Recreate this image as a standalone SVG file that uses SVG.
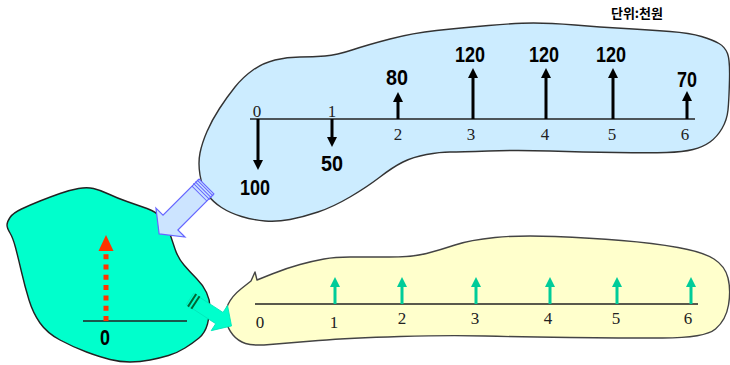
<svg xmlns="http://www.w3.org/2000/svg" width="730" height="365" viewBox="0 0 730 365">
<defs>
<style>
.blob{stroke-width:1.4;stroke-linejoin:round}
.axis{stroke:#222;stroke-width:1.5;fill:none}
.tick{font-family:"Liberation Serif","Times New Roman",serif;font-size:17px;fill:#222;text-anchor:middle}
.val{font-family:"Liberation Sans",Arial,sans-serif;font-size:22px;font-weight:bold;fill:#000;text-anchor:middle}
.blk{stroke:#000;stroke-width:3;fill:none}
.grn{stroke:#00CC99;stroke-width:3;fill:none}
</style>
<marker id="hb" viewBox="0 0 10 10" refX="2" refY="5" markerWidth="10" markerHeight="10" markerUnits="userSpaceOnUse" orient="auto"><path d="M0,0 L10,5 L0,10 Z" fill="#000"/></marker>
<marker id="hg" viewBox="0 0 10 10" refX="2" refY="5" markerWidth="10" markerHeight="10" markerUnits="userSpaceOnUse" orient="auto"><path d="M0,0 L10,5 L0,10 Z" fill="#00CC99"/></marker>
</defs>
<rect width="730" height="365" fill="#fff"/>

<g id="node-present">
<path class="blob" fill="#00FFCC" stroke="#222" d="M7,225 Q7,222 10,217.5 Q13,213 21.5,209 Q30,205 40,201 Q50,197 60,193.5 Q70,190 78.5,188.5 Q87,187 93.5,188.5 Q100,190 108.5,194 Q117,198 127,201.5 Q137,205 147,208.5 Q157,212 162,218.5 Q167,225 169.5,232.5 Q172,240 175,249 Q178,258 184,265 Q190,272 196.5,278.5 Q203,285 206.5,292.5 Q210,300 210,307.5 Q210,315 207.5,324 Q205,333 199,338 Q193,343 185,348 Q177,353 168.5,355.5 Q160,358 150,360 Q140,362 130,362 Q120,362 110,359.5 Q100,357 86.5,352 Q73,347 60,340 Q47,333 40,323 Q33,313 29,300 Q25,287 21.5,272 Q18,257 15.5,247.5 Q13,238 10,233 Q7,228 7,225 Z"/>
<line class="axis" x1="83" y1="321" x2="187" y2="321" stroke-width="1.3"/>
<path d="M106,321 V252" stroke="#FF3300" stroke-width="5" stroke-dasharray="5 5.3" fill="none"/>
<polygon points="106,235 98.5,251 113.5,251" fill="#FF3300"/>
<text class="val" x="105" y="345" font-size="18" textLength="10" lengthAdjust="spacingAndGlyphs">0</text>
</g>

<g id="node-annuity">
<path class="blob" fill="#FFFFCC" stroke="#444" d="M255,272 L257,280 L272,274 Q287,268 300,264.5 Q313,261 324,259 Q335,257 350,257 Q365,257 389,257 Q413,257 426.5,253.5 Q440,250 455,245 Q470,240 495,237.5 Q520,235 555,236.5 Q590,238 621.5,240.5 Q653,243 678,247.5 Q703,252 714,259 Q725,266 728,278 Q731,290 728.5,305 Q726,320 715.5,329 Q705,338 662.5,338 Q620,338 570,337.5 Q520,337 485,336 Q450,335 400,336.5 Q350,338 318.5,340.5 Q287,343 270,344.5 Q253,346 245.5,343.5 Q238,341 233,335 Q228,329 226,321 Q224,313 228,304.5 Q232,296 241.5,288.5 L251,281 L255,272 Z"/>
<line class="axis" x1="255" y1="304" x2="698" y2="304"/>
<line class="grn" x1="335" y1="304" x2="335" y2="285" marker-end="url(#hg)"/>
<line class="grn" x1="402" y1="304" x2="402" y2="285" marker-end="url(#hg)"/>
<line class="grn" x1="476" y1="304" x2="476" y2="285" marker-end="url(#hg)"/>
<line class="grn" x1="550" y1="304" x2="550" y2="285" marker-end="url(#hg)"/>
<line class="grn" x1="617" y1="304" x2="617" y2="285" marker-end="url(#hg)"/>
<line class="grn" x1="691" y1="304" x2="691" y2="285" marker-end="url(#hg)"/>
<text class="tick" x="260" y="328">0</text>
<text class="tick" x="334" y="328">1</text>
<text class="tick" x="402" y="324">2</text>
<text class="tick" x="475" y="324">3</text>
<text class="tick" x="548" y="324">4</text>
<text class="tick" x="616" y="324">5</text>
<text class="tick" x="688" y="324">6</text>
</g>

<g id="node-cashflow">
<path class="blob" fill="#CCECFF" stroke="#333" d="M200,175 Q198,163 200,153 Q202,143 207,131.5 Q212,120 219.5,108.5 Q227,97 235,87 Q243,77 253,70 Q263,63 275,60 Q287,57 300,57 Q313,57 325,56 Q337,55 352,50 Q367,45 390,39 Q413,33 436.5,30.5 Q460,28 488.5,25.5 Q517,23 533.5,23 Q550,23 575,25 Q600,27 625,28.5 Q650,30 670,31.5 Q690,33 701.5,36.5 Q713,40 719,43.5 Q725,47 727.5,53.5 Q730,60 729.5,80 Q729,100 728,110 Q727,120 722,128.5 Q717,137 710,142 Q703,147 693,149.5 Q683,152 666.5,152.5 Q650,153 616.5,152.5 Q583,152 550,151 Q517,150 488.5,151 Q460,152 450,152 Q440,152 426.5,154.5 Q413,157 403,162 Q393,167 380,177 Q367,187 350,197 Q333,207 318,212 Q303,217 290,219.5 Q277,222 265,221 Q253,220 241.5,216.5 Q230,213 221.5,207.5 Q213,202 207.5,194.5 Q202,187 200,175 Z"/>
<line class="axis" x1="250" y1="119" x2="695" y2="119"/>
<line class="blk" x1="258" y1="119" x2="258" y2="162" marker-end="url(#hb)"/>
<line class="blk" x1="332" y1="119" x2="332" y2="139" marker-end="url(#hb)"/>
<line class="blk" x1="398" y1="119" x2="398" y2="100" marker-end="url(#hb)"/>
<line class="blk" x1="473" y1="119" x2="473" y2="76" marker-end="url(#hb)"/>
<line class="blk" x1="546" y1="119" x2="546" y2="76" marker-end="url(#hb)"/>
<line class="blk" x1="613" y1="119" x2="613" y2="76" marker-end="url(#hb)"/>
<line class="blk" x1="687" y1="119" x2="687" y2="99" marker-end="url(#hb)"/>
<text class="tick" x="257" y="117">0</text>
<text class="tick" x="332" y="117">1</text>
<text class="tick" x="398" y="140">2</text>
<text class="tick" x="471" y="140">3</text>
<text class="tick" x="545" y="140">4</text>
<text class="tick" x="612" y="140">5</text>
<text class="tick" x="685" y="140">6</text>
<text class="val" x="255" y="195" textLength="30" lengthAdjust="spacingAndGlyphs">100</text>
<text class="val" x="332" y="171" textLength="22" lengthAdjust="spacingAndGlyphs">50</text>
<text class="val" x="397" y="85" textLength="22" lengthAdjust="spacingAndGlyphs">80</text>
<text class="val" x="470" y="62" textLength="30" lengthAdjust="spacingAndGlyphs">120</text>
<text class="val" x="544" y="62" textLength="30" lengthAdjust="spacingAndGlyphs">120</text>
<text class="val" x="611" y="62" textLength="30" lengthAdjust="spacingAndGlyphs">120</text>
<text class="val" x="687" y="87" textLength="20" lengthAdjust="spacingAndGlyphs">70</text>
</g>

<g id="unit-label">
<text x="637" y="18" font-family="'Noto Sans CJK KR','Noto Sans',sans-serif" font-size="13" font-weight="bold" fill="#000" text-anchor="middle">단위:천원</text>
</g>

<g id="connectors">
<g transform="translate(206.5,186.5) rotate(135)">
<polygon points="0,-10.5 51,-10.5 51,-20.5 67,0 51,20.5 51,10.5 0,10.5" fill="#CCE4FF" stroke="#6666FF" stroke-width="1.2" stroke-linejoin="miter"/>
<g stroke="#6666FF" stroke-width="1">
<line x1="2" y1="-11.5" x2="2" y2="11.5"/>
<line x1="4.5" y1="-11.5" x2="4.5" y2="11.5"/>
<line x1="7" y1="-11.5" x2="7" y2="11.5"/>
<line x1="10" y1="-10.5" x2="10" y2="10.5"/>
</g>
</g>
<g transform="translate(190,299) rotate(33)">
<polygon points="0,-6.7 35,-6.7 35,-15 49.5,0 35,15 35,6.7 0,6.7" fill="#00FFCC" stroke="#00E6B8" stroke-width="0.8"/>
<g stroke="#006633" stroke-width="2">
<line x1="2.5" y1="-7.5" x2="2.5" y2="7.5"/>
<line x1="6.5" y1="-7.5" x2="6.5" y2="7.5"/>
</g>
</g>
</g>
</svg>
